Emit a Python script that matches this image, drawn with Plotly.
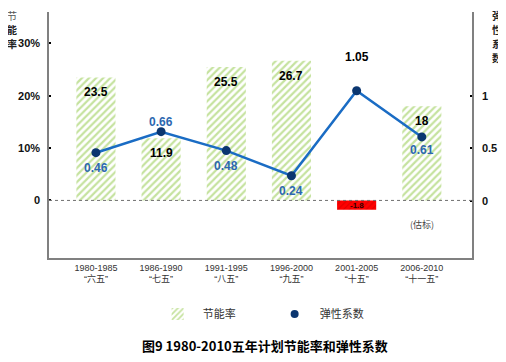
import plotly.graph_objects as go

periods = ["1980-1985", "1986-1990", "1991-1995", "1996-2000", "2001-2005", "2006-2010"]
plans = ["“六五”", "“七五”", "“八五”", "“九五”", "“十五”", "“十一五”"]
saving_rate = [23.5, 11.9, 25.5, 26.7, -1.8, 18]
elasticity = [0.46, 0.66, 0.48, 0.24, 1.05, 0.61]
left_title = "节能率"
right_title = "弹性系数"

FONT = "Liberation Sans, Arial, Noto Sans CJK SC, sans-serif"
CJK = "Noto Sans CJK SC, sans-serif"

x = list(range(len(periods)))
green = "#8cc63f"

pos_x = [i for i, v in zip(x, saving_rate) if v >= 0]
pos_y = [v for v in saving_rate if v >= 0]
neg_x = [i for i, v in zip(x, saving_rate) if v < 0]
neg_y = [v for v in saving_rate if v < 0]

fig = go.Figure()
fig.add_trace(go.Bar(
    x=pos_x, y=pos_y, width=0.6, name="节能率",
    marker=dict(color="white", line=dict(width=0),
                pattern=dict(shape="/", fgcolor=green, bgcolor="white", size=5, solidity=0.45)),
    showlegend=True, hoverinfo="skip",
))
fig.add_trace(go.Bar(
    x=neg_x, y=neg_y, width=0.6, name="节能率(负)",
    marker=dict(color="#ff0000", line=dict(width=0),
                pattern=dict(shape="/", fgcolor="#b80000", bgcolor="#ff0000", size=4, solidity=0.25)),
    showlegend=False, hoverinfo="skip",
))
fig.add_trace(go.Scatter(
    x=x, y=elasticity, yaxis="y2", mode="lines+markers",
    line=dict(color="#1a6cc4", width=2.5),
    marker=dict(color="#0b3670", size=9),
    showlegend=False, hoverinfo="skip",
))
fig.add_trace(go.Scatter(
    x=[None], y=[None], yaxis="y2", mode="markers", name="弹性系数",
    marker=dict(color="#0b3670", size=8), showlegend=True,
))

annotations = []
# bar labels
for i, v in enumerate(saving_rate):
    if v >= 0:
        annotations.append(dict(x=i, y=v, xref="x", yref="y", text=f"<b>{v:g}</b>",
                                showarrow=False, yshift=-15,
                                font=dict(size=12, color="black", family=FONT)))
    else:
        annotations.append(dict(x=i, y=v / 2, xref="x", yref="y", text=f"<b>{v:g}</b>",
                                showarrow=False,
                                font=dict(size=8, color="#300000", family=FONT)))
# line labels
shifts = [-15, 10, -15, -15, 34, -13]
for i, v in enumerate(elasticity):
    col = "black" if i == 4 else "#2c68b0"
    annotations.append(dict(x=i, y=v, xref="x", yref="y2", text=f"<b>{v:g}</b>",
                            showarrow=False, yshift=shifts[i],
                            font=dict(size=12, color=col, family=FONT)))
# vertical axis titles, one character per line
for k, ch in enumerate(left_title):
    annotations.append(dict(x=-0.087, y=1.0, xref="paper", yref="paper", xanchor="center", yanchor="middle",
                            text=f"<b>{ch}</b>" if k else ch, showarrow=False, yshift=-3 - 14 * k,
                            borderpad=0,
                            font=dict(size=10, color="#222222" if k else "#555555", family=CJK)))
for k, ch in enumerate(right_title):
    annotations.append(dict(x=1.059, y=1.0, xref="paper", yref="paper", xanchor="center", yanchor="middle",
                            text=f"<b>{ch}</b>", showarrow=False, yshift=-3 - 14 * k,
                            borderpad=0,
                            font=dict(size=10, color="#222222", family=CJK)))
annotations.append(dict(x=5, y=0.10, xref="x", yref="paper", text="(估标)", showarrow=False,
                        font=dict(size=9, color="#444444", family=CJK)))
annotations.append(dict(x=0.51, y=-0.354, xref="paper", yref="paper", xanchor="center", yanchor="middle",
                        text="<b>图9 1980-2010五年计划节能率和弹性系数</b>", showarrow=False,
                        font=dict(size=13, color="black", family=CJK)))

fig.update_layout(
    width=498, height=354,
    margin=dict(l=41, r=34, t=4, b=104, autoexpand=False),
    paper_bgcolor="white", plot_bgcolor="white",
    font=dict(family=FONT, size=11, color="#222222"),
    barmode="overlay",
    xaxis=dict(range=[-0.72, 5.77], tickvals=x,
               ticktext=[f"{p}<br>{q}" for p, q in zip(periods, plans)],
               tickfont=dict(size=9, color="#333333", family=FONT),
               showline=True, linecolor="#808080", linewidth=1.5, ticks="",
               showgrid=False, zeroline=False, fixedrange=True, automargin=False),
    yaxis=dict(range=[-11, 36], tickvals=[0, 10, 20, 30],
               ticktext=["<b>0</b>", "<b>10%</b>", "<b>20%</b>", "<b>30%</b>"],
               tickfont=dict(size=11, color="#111111"),
               showline=True, linecolor="#808080", linewidth=1.5,
               ticks="inside", ticklen=2, tickwidth=2, tickcolor="black",
               showgrid=False, zeroline=False, ticklabelstandoff=5, automargin=False),
    yaxis2=dict(range=[-0.543, 1.8], overlaying="y", side="right",
                tickvals=[0, 0.5, 1], ticktext=["<b>0</b>", "<b>0.5</b>", "<b>1</b>"],
                tickfont=dict(size=11, color="#111111"),
                showline=True, linecolor="#808080", linewidth=1.5,
                ticks="inside", ticklen=2, tickwidth=2, tickcolor="black",
                showgrid=False, zeroline=False, ticklabelstandoff=6, automargin=False),
    legend=dict(orientation="h", x=0.245, y=-0.228, xanchor="left", yanchor="middle",
                font=dict(size=11, color="#333333", family=CJK), itemwidth=40,
                entrywidth=62, entrywidthmode="pixels",
                bgcolor="rgba(0,0,0,0)"),
    shapes=[dict(type="line", xref="paper", yref="y", x0=0, x1=1, y0=0, y1=0,
                 line=dict(color="#707070", width=1, dash="dot"))],
    annotations=annotations,
)

fig.write_html("out.html")
